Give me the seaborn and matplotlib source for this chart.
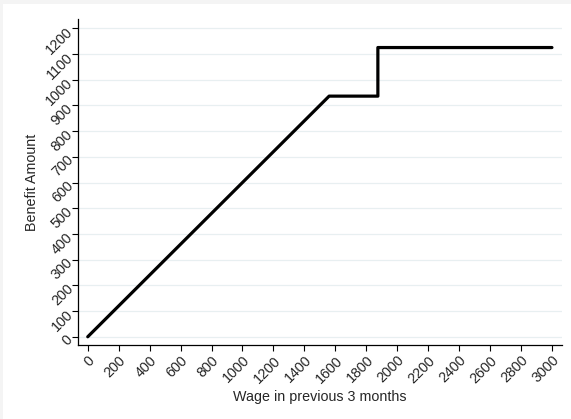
import numpy as np
import pandas as pd
import matplotlib
matplotlib.use('Agg')
import matplotlib.pyplot as plt
import seaborn as sns
from matplotlib.patches import Rectangle

# Benefit schedule
wage = [0, 1560, 1875, 1875, 3000]
benefit = [0, 936, 936, 1125, 1125]

x_ticks = list(range(0, 3001, 200))
y_ticks = list(range(0, 1201, 100))

sns.set_style('white')
plt.rcParams['font.family'] = ['Liberation Sans', 'DejaVu Sans']

fig = plt.figure(figsize=(5.71, 4.19), dpi=100, facecolor='#f4f4f4')
# white graph region inside the thin grey border
fig.patches.append(Rectangle((3 / 571, 0), 1, 1 - 4 / 419, transform=fig.transFigure,
                             facecolor='white', edgecolor='none', zorder=-10))
ax = fig.add_axes([78 / 571, 1 - 345 / 419, (562 - 78) / 571, (345 - 19) / 419])
ax.set_facecolor('white')

df = pd.DataFrame({'wage': wage, 'benefit': benefit})
sns.lineplot(data=df, x='wage', y='benefit', estimator=None, sort=False,
             color='black', linewidth=2.3, ax=ax, zorder=3)

ax.set_xlim(-63, 3065)
ax.set_ylim(-32, 1236)
ax.set_xticks(x_ticks)
ax.set_yticks(y_ticks)
ax.set_xticklabels([str(v) for v in x_ticks], rotation=45, ha='right',
                   rotation_mode='anchor', fontsize=10.3)
ax.set_yticklabels([str(v) for v in y_ticks], rotation=45, ha='right',
                   rotation_mode='anchor', fontsize=10.3)
ax.tick_params(axis='both', direction='out', length=4, width=0.8, color='black', pad=2,
               left=True, bottom=True)

ax.grid(True, axis='y', color='#e8eff1', linewidth=0.9)
ax.grid(False, axis='x')
ax.set_axisbelow(True)

for side in ['top', 'right']:
    ax.spines[side].set_visible(False)
for side in ['left', 'bottom']:
    ax.spines[side].set_color('black')
    ax.spines[side].set_linewidth(0.9)

ax.set_xlabel('Wage in previous 3 months', fontsize=10.3, labelpad=3)
ax.set_ylabel('Benefit Amount', fontsize=10.3, labelpad=3)

fig.savefig('out.png', dpi=100, facecolor=fig.get_facecolor())
